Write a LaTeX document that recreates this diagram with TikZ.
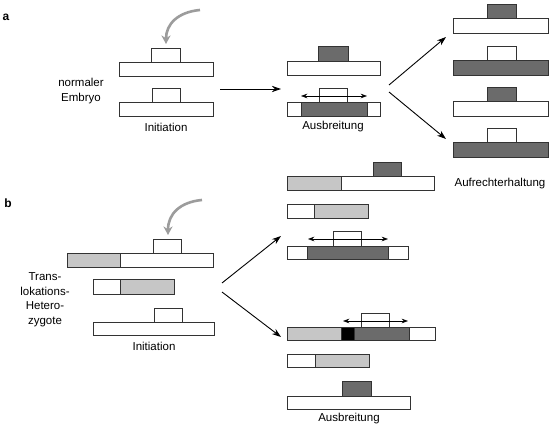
\documentclass[tikz,border=0pt]{standalone}
\usepackage{fontspec}
\setmainfont{Liberation Sans}
\usetikzlibrary{arrows.meta}
\definecolor{ink}{HTML}{333333}
\definecolor{darkseg}{HTML}{6B6B6B}
\definecolor{lightseg}{HTML}{C6C6C6}
\definecolor{curlgray}{HTML}{9C9C9C}
\tikzset{
  seg/.style={draw=ink,line width=1pt},
  lbl/.style={align=center,inner sep=0pt,font=\fontsize{11.5}{14.5}\selectfont},
  panellbl/.style={inner sep=0pt,font=\fontsize{12}{14}\selectfont\bfseries},
  fwd/.style={-{Stealth[length=3.2mm,width=2.2mm]},line width=0.9pt,draw=black},
  spread/.style={{Stealth[length=2.2mm,width=1.6mm]}-{Stealth[length=2.2mm,width=1.6mm]},
                 line width=0.6pt,draw=black},
  curl/.style={-{Stealth[length=3mm,width=3.2mm]},line width=2.6pt,draw=curlgray}
}
\begin{document}
\begin{tikzpicture}[x=1pt,y=-1pt]
    \path[use as bounding box,fill=white] (0,0) rectangle (560,427);
    % panel a
    \node[panellbl] (pa) at (6,17) {a};
    \draw[curl] (200,10) .. controls (178,12) and (166,24) .. (166,44);
    \draw[seg,fill=white] (151,49) rectangle (180,63);
    \draw[seg,fill=white] (119,63) rectangle (213,77);
    \draw[seg,fill=white] (152,89) rectangle (180,103);
    \draw[seg,fill=white] (119,103) rectangle (213,117);
    \node[lbl] (normal) at (81,91) {normaler\\Embryo};
    \node[lbl] (initA) at (166,127) {Initiation};
    \coordinate (initAout) at (220,89);
    \coordinate (spreadAin) at (281,89);
    \draw[fwd] (initAout) -- (spreadAin);
    % spreading, normal embryo
    \draw[seg,fill=darkseg] (318,47) rectangle (348,62);
    \draw[seg,fill=white] (287,62) rectangle (380,76);
    \draw[seg,fill=white] (287,103) rectangle (380,117);
    \draw[seg,fill=darkseg] (301,103) rectangle (367,117);
    \draw[seg,fill=white] (319,89) rectangle (347,103);
    \coordinate (sprAl) at (301,96);
    \coordinate (sprAr) at (367,96);
    \draw[spread] (sprAl) -- (sprAr);
    \node[lbl] (spreadA) at (333,127) {Ausbreitung};
    \coordinate (forkA) at (389,85);
    \coordinate (forkAlow) at (389,92);
    \coordinate (keepAtop) at (446,37);
    \coordinate (keepAbot) at (446,139);
    \draw[fwd] (forkA) -- (keepAtop);
    \draw[fwd] (forkAlow) -- (keepAbot);
    % maintenance
    \foreach \yy/\tfill/\bfill in {5/darkseg/white, 47/white/darkseg,
                                   88/darkseg/white, 129/white/darkseg}{
      \draw[seg,fill=\tfill] (487,\yy) rectangle (516,\yy+14);
      \draw[seg,fill=\bfill] (453,\yy+14) rectangle (548,\yy+29);
    }
    \node[lbl] (keepA) at (500,184) {Aufrechterhaltung};
    % panel b
    \node[panellbl] (pb) at (8,203) {b};
    \draw[curl] (202,200) .. controls (180,202) and (168,214) .. (168,235);
    \draw[seg,fill=white] (153,240) rectangle (181,254);
    \draw[seg,fill=lightseg] (67,254) rectangle (120,268);
    \draw[seg,fill=white] (120,254) rectangle (213,268);
    \draw[seg,fill=white] (93,280) rectangle (120,295);
    \draw[seg,fill=lightseg] (120,280) rectangle (174,295);
    \draw[seg,fill=white] (154,309) rectangle (182,323);
    \draw[seg,fill=white] (93,323) rectangle (214,336);
    \node[lbl] (hetero) at (45,299.5) {Trans-\\lokations-\\Hetero-\\zygote};
    \node[lbl] (initB) at (154,346) {Initiation};
    \coordinate (forkB) at (222,283);
    \coordinate (forkBlow) at (222,292);
    \coordinate (sprBtop) at (281,236);
    \coordinate (sprBbot) at (281,337);
    \draw[fwd] (forkB) -- (sprBtop);
    \draw[fwd] (forkBlow) -- (sprBbot);
    % spreading, heterozygote
    \draw[seg,fill=darkseg] (373,163) rectangle (401,177);
    \draw[seg,fill=lightseg] (287,177) rectangle (341,191);
    \draw[seg,fill=white] (341,177) rectangle (434,191);
    \draw[seg,fill=white] (287,205) rectangle (314,219);
    \draw[seg,fill=lightseg] (314,205) rectangle (368,219);
    \draw[seg,fill=white] (287,247) rectangle (408,260);
    \draw[seg,fill=darkseg] (307,247) rectangle (388,260);
    \draw[seg,fill=white] (333,232) rectangle (361,247);
    \coordinate (sprBl) at (308,239);
    \coordinate (sprBr) at (388,239);
    \draw[spread] (sprBl) -- (sprBr);
    \draw[seg,fill=lightseg] (287,328) rectangle (341,341);
    \draw[seg,fill=black] (341,328) rectangle (354,341);
    \draw[seg,fill=darkseg] (354,328) rectangle (409,341);
    \draw[seg,fill=white] (409,328) rectangle (435,341);
    \draw[seg,fill=white] (361,314) rectangle (389,328);
    \coordinate (sprCl) at (343,321);
    \coordinate (sprCr) at (408,321);
    \draw[spread] (sprCl) -- (sprCr);
    \draw[seg,fill=white] (287,355) rectangle (315,368);
    \draw[seg,fill=lightseg] (315,355) rectangle (369,368);
    \draw[seg,fill=darkseg] (342,382) rectangle (371,397);
    \draw[seg,fill=white] (287,397) rectangle (410,410);
    \node[lbl] (spreadB) at (349,419) {Ausbreitung};
\end{tikzpicture}
\end{document}
